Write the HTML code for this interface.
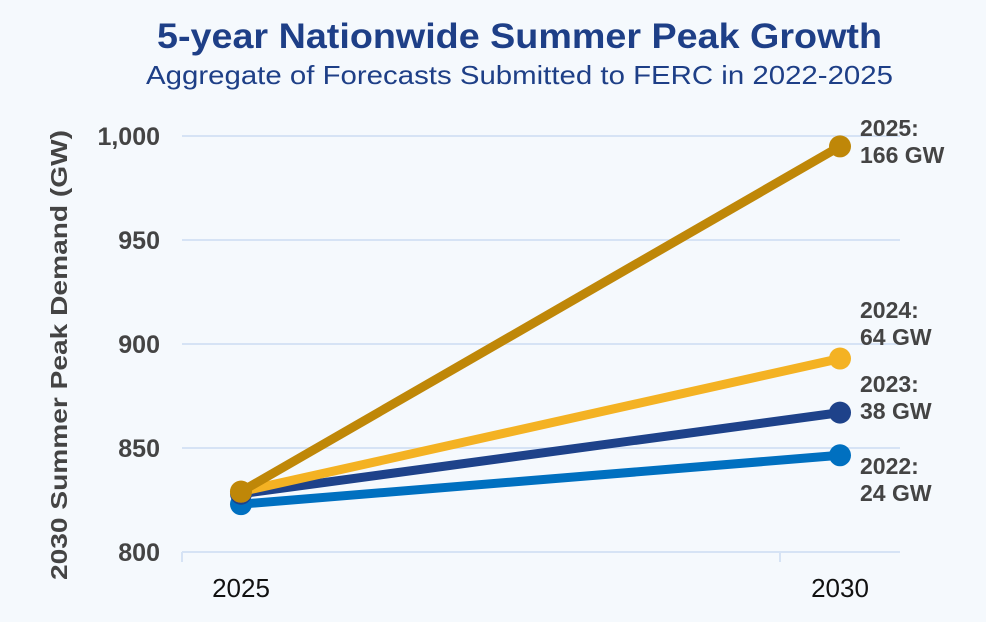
<!DOCTYPE html>
<html><head><meta charset="utf-8"><style>
body{margin:0;background:#f5f9fd;}
svg{display:block;font-family:"Liberation Sans",sans-serif;}
</style></head><body>
<svg width="986" height="622">
<rect width="986" height="622" fill="#f5f9fd"/>
<text x="157" y="48" textLength="725" lengthAdjust="spacingAndGlyphs" font-size="35" font-weight="bold" fill="#1e3f87">5-year Nationwide Summer Peak Growth</text>
<text x="146" y="84" textLength="747" lengthAdjust="spacingAndGlyphs" font-size="26" fill="#1e3f87">Aggregate of Forecasts Submitted to FERC in 2022-2025</text>
<text transform="translate(67,580) rotate(-90)" textLength="450" lengthAdjust="spacingAndGlyphs" font-size="23" font-weight="bold" fill="#444">2030 Summer Peak Demand (GW)</text>
<g id="grid"></g><g id="series"></g>
</svg>
<script>
const yTicks=[800,850,900,950,1000];
const yTickLabels=["800","850","900","950","1,000"];
const categories=["2025","2030"];
const seriesNames=["2022","2023","2024","2025"];
const seriesStart=[823,828,829,829];
const seriesEnd=[846.5,867,893,995];
const growthLabels=["24 GW","38 GW","64 GW","166 GW"];
const colors=["#0070c0","#1e428a","#f4b223","#bf8708"];
const labelY=[[474,501],[392,419],[318,345],[136,163]];
const NS="http://www.w3.org/2000/svg";
const y=v=>552-(v-800)*2.08;
const x=i=>241+i*599;
const grid=document.getElementById('grid'),ser=document.getElementById('series');
function mk(tag,attrs,parent){const e=document.createElementNS(NS,tag);for(const k in attrs)e.setAttribute(k,attrs[k]);parent.appendChild(e);return e;}
yTicks.forEach((t,i)=>{
 const l=mk('line',{x1:182,x2:900,y1:y(t),y2:y(t),stroke:'#d6e3f5','stroke-width':2},grid);
 
 
 const tx=mk('text',{x:160,y:y(t)+9,'text-anchor':'end','font-size':25,'font-weight':'bold',fill:'#444'},grid);
 tx.textContent=yTickLabels[i];
 
 
});
[182,780].forEach(px=>{const l=mk('line',{x1:px,x2:px,y1:552,y2:562,stroke:'#d6e3f5','stroke-width':2},grid);
 
 });
categories.forEach((c,i)=>{const t=mk('text',{x:x(i),y:597,'text-anchor':'middle','font-size':26,fill:'#111'},grid);t.textContent=c;
 
 });
seriesNames.forEach((n,i)=>{
 const g=mk('g',{},ser);
 
 
 mk('line',{x1:x(0),y1:y(seriesStart[i]),x2:x(1),y2:y(seriesEnd[i]),stroke:colors[i],'stroke-width':9},g);
 const c1=mk('circle',{cx:x(0),cy:y(seriesStart[i]),r:11,fill:colors[i]},g);
 
 
 const c2=mk('circle',{cx:x(1),cy:y(seriesEnd[i]),r:11,fill:colors[i]},g);
 
 
 const t=mk('text',{x:860,'font-size':23,'font-weight':'bold',fill:'#444'},g);
 
 
 const a=mk('tspan',{x:860,y:labelY[i][0]},t);a.textContent=n+':';
 const b=mk('tspan',{x:860,y:labelY[i][1]},t);b.textContent=growthLabels[i];
});
</script>
</body></html>
